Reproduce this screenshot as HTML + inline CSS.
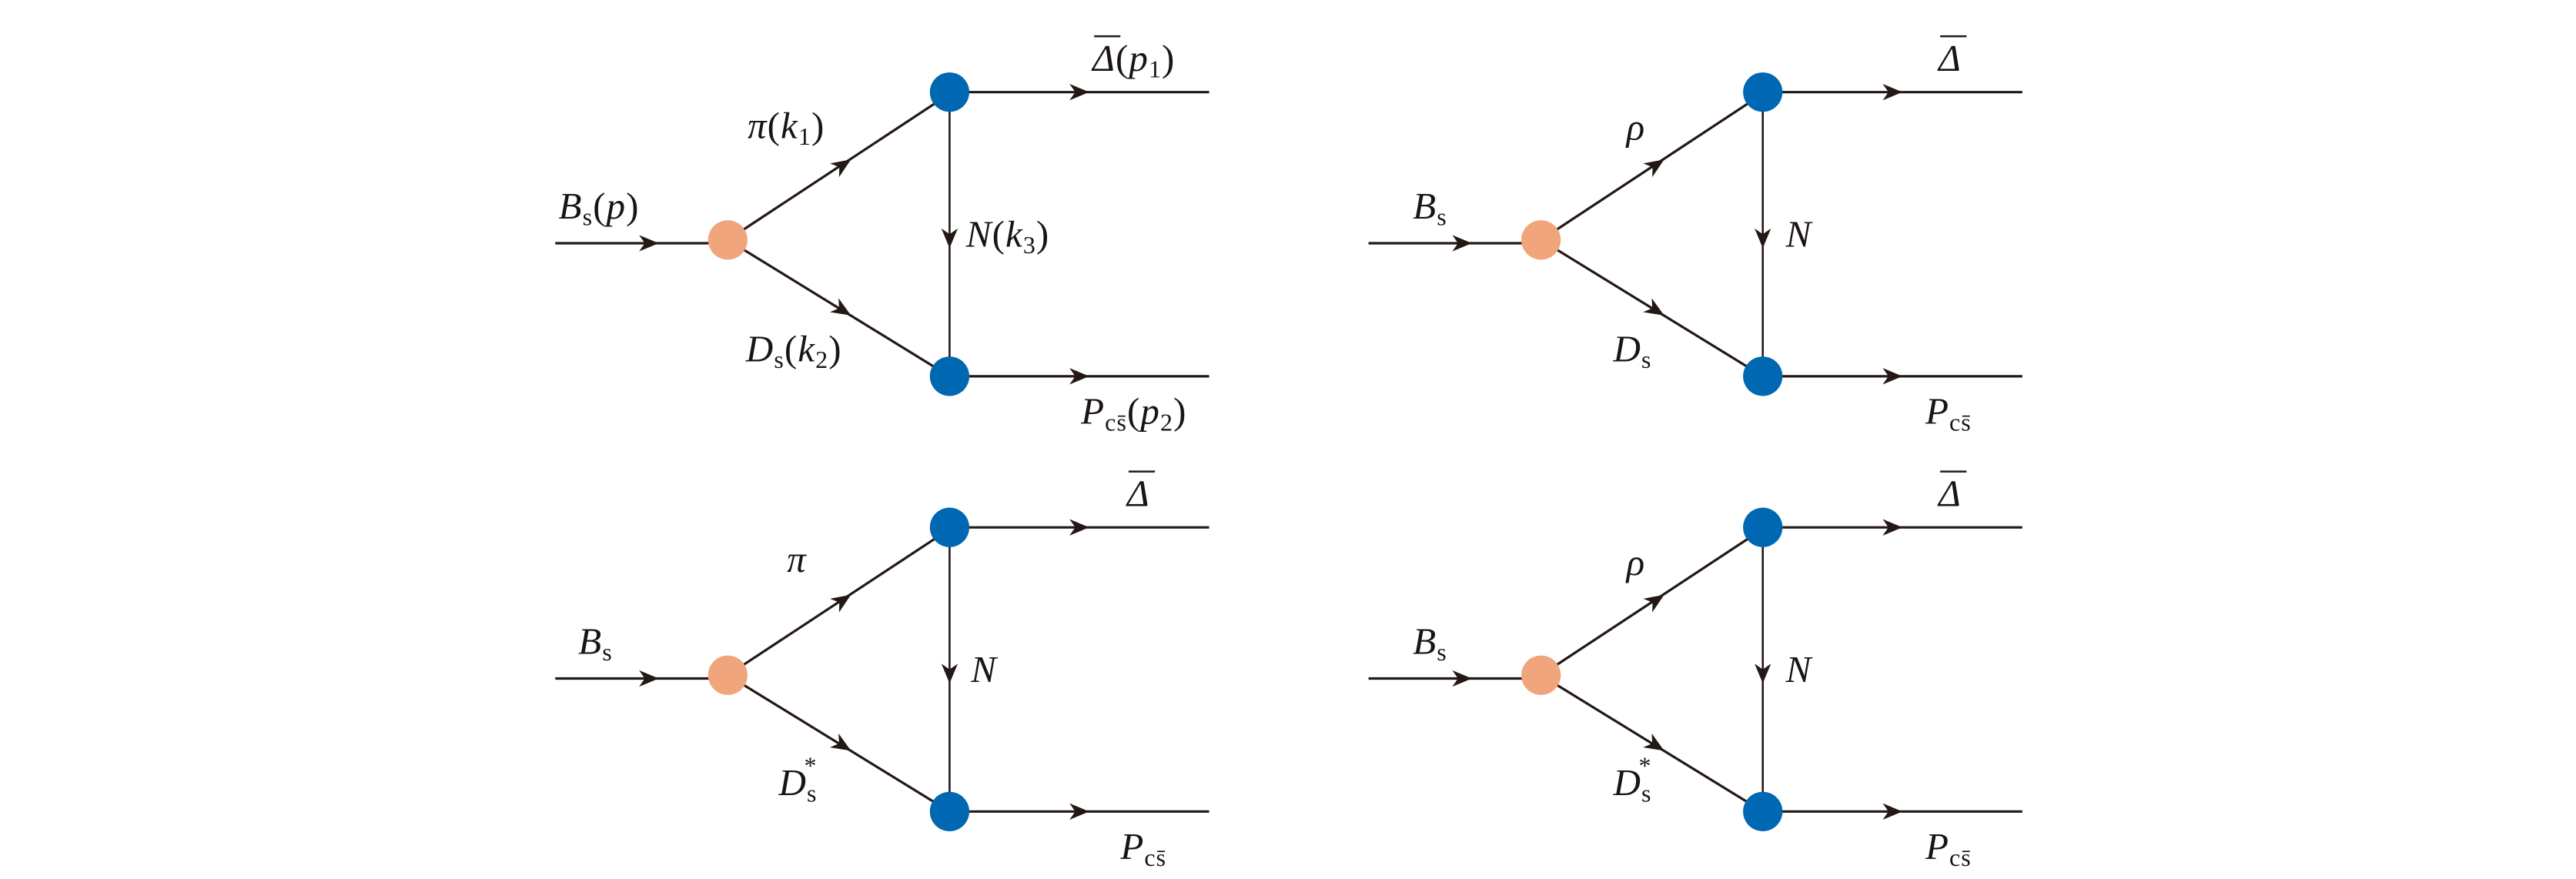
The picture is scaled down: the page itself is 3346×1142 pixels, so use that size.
<!DOCTYPE html>
<html><head><meta charset="utf-8"><style>
html,body{margin:0;padding:0;background:#fff;}
svg{display:block;}
text{font-family:"Liberation Serif",serif;font-style:italic;fill:#1a1414;letter-spacing:0.5px;}
.r{font-style:normal;}
</style></head><body>
<svg width="3346" height="1142" viewBox="0 0 1568 535" xmlns="http://www.w3.org/2000/svg">
<defs>
<path id="ah" d="M0,0 L-12,-5 L-8.5,0 L-12,5 Z" fill="#231815"/>
<g id="base" stroke="#231815" stroke-width="1.5" fill="none">
  <line x1="338" y1="148" x2="443" y2="148"/>
  <line x1="443" y1="146" x2="578" y2="57"/>
  <line x1="443" y1="146" x2="578" y2="229"/>
  <line x1="578" y1="57" x2="578" y2="229" stroke-width="1.2"/>
  <line x1="578" y1="56" x2="736" y2="56"/>
  <line x1="578" y1="229" x2="736" y2="229"/>
</g>
<g id="dia">
  <use href="#base"/>
  <use href="#ah" transform="translate(401,148)"/>
  <use href="#ah" transform="translate(663,56)"/>
  <use href="#ah" transform="translate(663,229)"/>
  <use href="#ah" transform="translate(578,151) rotate(90)"/>
  <use href="#ah" transform="translate(518,97) rotate(-33.4)"/>
  <use href="#ah" transform="translate(518,192) rotate(31.6)"/>
  <circle cx="443" cy="146" r="12" fill="#f0a57c"/>
  <circle cx="578" cy="56" r="12" fill="#0067b3"/>
  <circle cx="578" cy="229" r="12" fill="#0067b3"/>
</g>
</defs>

<use href="#dia"/>
<text x="340" y="133" font-size="23">B<tspan class="r" font-size="15" dy="4">s</tspan><tspan class="r" dy="-4">(</tspan>p<tspan class="r">)</tspan></text>
<text x="455" y="84" font-size="23">π<tspan class="r">(</tspan>k<tspan class="r" font-size="15" dy="4">1</tspan><tspan class="r" dy="-4">)</tspan></text>
<text x="454" y="220" font-size="23">D<tspan class="r" font-size="15" dy="4">s</tspan><tspan class="r" dy="-4">(</tspan>k<tspan class="r" font-size="15" dy="4">2</tspan><tspan class="r" dy="-4">)</tspan></text>
<text x="588" y="150" font-size="23">N<tspan class="r">(</tspan>k<tspan class="r" font-size="15" dy="4">3</tspan><tspan class="r" dy="-4">)</tspan></text>
<line x1="666" y1="22" x2="682" y2="22" stroke="#231815" stroke-width="1.2"/>
<text x="665" y="43" font-size="23">Δ<tspan class="r">(</tspan>p<tspan class="r" font-size="15" dy="4">1</tspan><tspan class="r" dy="-4">)</tspan></text>
<text x="658" y="258" font-size="23">P<tspan class="r" font-size="15" dy="4">cs̄</tspan><tspan class="r" dy="-4">(</tspan>p<tspan class="r" font-size="15" dy="4">2</tspan><tspan class="r" dy="-4">)</tspan></text>

<g transform="translate(495,0)"><use href="#dia"/></g>
<text x="860" y="133" font-size="23">B<tspan class="r" font-size="15" dy="4">s</tspan></text>
<text x="990" y="85" font-size="23">ρ</text>
<text x="982" y="220" font-size="23">D<tspan class="r" font-size="15" dy="4">s</tspan></text>
<text x="1087" y="150" font-size="23">N</text>
<line x1="1181" y1="22" x2="1197" y2="22" stroke="#231815" stroke-width="1.2"/>
<text x="1180" y="43" font-size="23">Δ</text>
<text x="1172" y="258" font-size="23">P<tspan class="r" font-size="15" dy="4">cs̄</tspan></text>

<g transform="translate(0,265)"><use href="#dia"/></g>
<text x="352" y="398" font-size="23">B<tspan class="r" font-size="15" dy="4">s</tspan></text>
<text x="479" y="348" font-size="23">π</text>
<text x="474" y="484" font-size="23">D<tspan class="r" font-size="15" dy="4">s</tspan><tspan class="r" font-size="15" dx="-8" dy="-17">*</tspan></text>
<text x="591" y="415" font-size="23">N</text>
<line x1="687" y1="287" x2="703" y2="287" stroke="#231815" stroke-width="1.2"/>
<text x="686" y="308" font-size="23">Δ</text>
<text x="682" y="523" font-size="23">P<tspan class="r" font-size="15" dy="4">cs̄</tspan></text>

<g transform="translate(495,265)"><use href="#dia"/></g>
<text x="860" y="398" font-size="23">B<tspan class="r" font-size="15" dy="4">s</tspan></text>
<text x="990" y="350" font-size="23">ρ</text>
<text x="982" y="484" font-size="23">D<tspan class="r" font-size="15" dy="4">s</tspan><tspan class="r" font-size="15" dx="-8" dy="-17">*</tspan></text>
<text x="1087" y="415" font-size="23">N</text>
<line x1="1181" y1="287" x2="1197" y2="287" stroke="#231815" stroke-width="1.2"/>
<text x="1180" y="308" font-size="23">Δ</text>
<text x="1172" y="523" font-size="23">P<tspan class="r" font-size="15" dy="4">cs̄</tspan></text>
</svg>
</body></html>
